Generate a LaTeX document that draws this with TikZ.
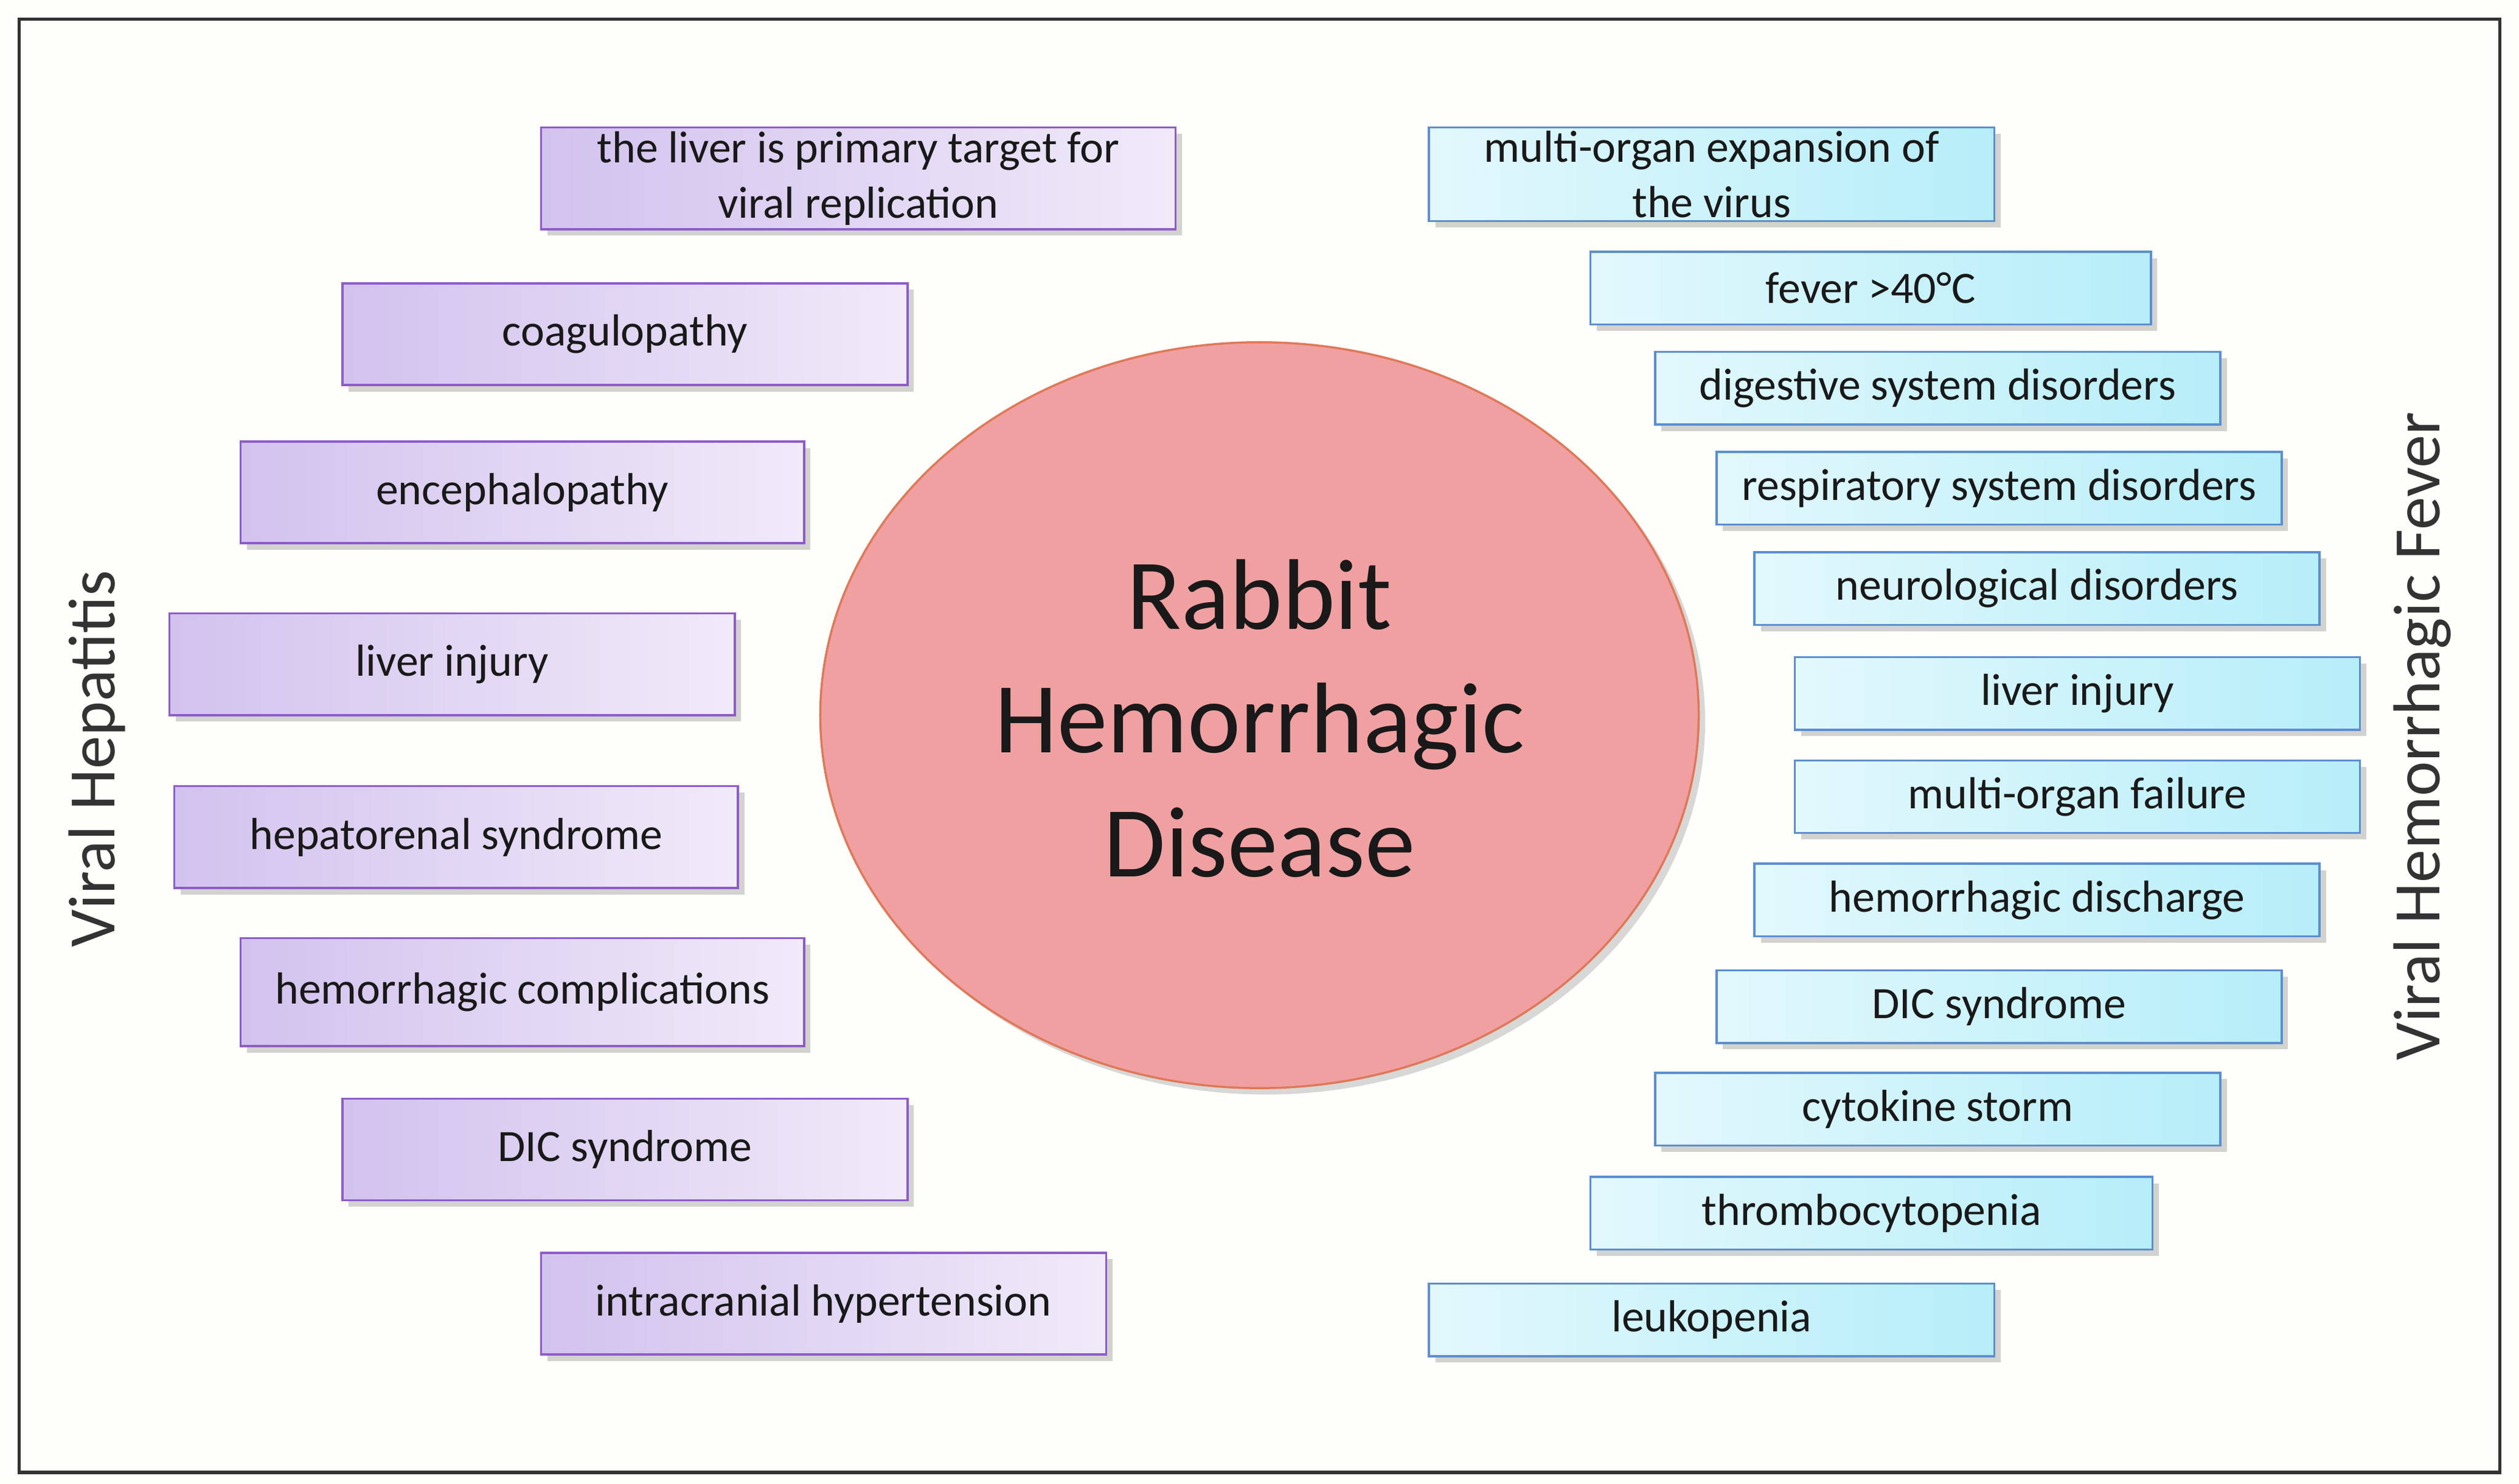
\documentclass[tikz,border=0pt]{standalone}
\usepackage{fontspec}
\setmainfont{Carlito}
\usetikzlibrary{shadows,shapes.geometric}
\definecolor{bg}{HTML}{FEFEFA}
\definecolor{lL}{HTML}{D2C2EE}
\definecolor{lR}{HTML}{F0EAF9}
\definecolor{lB}{HTML}{8E5CC8}
\definecolor{rL}{HTML}{E2F8FC}
\definecolor{rR}{HTML}{B6EEF9}
\definecolor{rB}{HTML}{5B8FD0}
\definecolor{eF}{HTML}{F0A0A0}
\definecolor{eB}{HTML}{E07858}
\begin{document}
\begin{tikzpicture}[x=0.02655cm,y=-0.02655cm,
 box/.style={draw,line width=1pt,inner sep=0pt,align=center,font=\fontsize{21}{26}\selectfont,text=black!90,
   drop shadow={shadow xshift=3pt,shadow yshift=-3pt,opacity=.35,fill=gray}},
 lbox/.style={box,draw=lB,left color=lL,right color=lR,minimum height=63*0.02655cm},
 rbox/.style={box,draw=rB,left color=rL,right color=rR,minimum width=350*0.02655cm,minimum height=45*0.02655cm},
 side/.style={font=\fontsize{31}{36}\selectfont,text=black!80,rotate=90}]
\path[use as bounding box,fill=bg] (0,0) rectangle (1560,919);
\draw[line width=1.5pt,draw=black!80] (12,12) rectangle (1548,912);
\node[draw=eB,line width=1pt,fill=eF,ellipse,minimum width=544*0.02655cm,minimum height=462*0.02655cm,
  drop shadow={shadow xshift=3pt,shadow yshift=-3pt,opacity=.3,fill=gray}] (c) at (780,443) {};
\node[align=center,font=\fontsize{47}{58}\selectfont,text=black!90] (ct) at (780,445) {Rabbit\\Hemorrhagic\\Disease};
\node[lbox,minimum width=393*0.02655cm] (l1) at (531.5,110.5) {the liver is primary target for\\viral replication};
\node[lbox,minimum width=350*0.02655cm] (l2) at (387,207) {coagulopathy};
\node[lbox,minimum width=349*0.02655cm] (l3) at (323.5,305) {encephalopathy};
\node[lbox,minimum width=350*0.02655cm] (l4) at (280,411.5) {liver injury};
\node[lbox,minimum width=349*0.02655cm] (l5) at (282.5,518.5) {hepatorenal syndrome};
\node[lbox,minimum width=349*0.02655cm,minimum height=67*0.02655cm] (l6) at (323.5,614.5) {hemorrhagic complications};
\node[lbox,minimum width=350*0.02655cm] (l7) at (387,712) {DIC syndrome};
\node[lbox,minimum width=350*0.02655cm] (l8) at (510,807.5) {intracranial hypertension};
\node[rbox,minimum height=58*0.02655cm] (r1) at (1060,108) {multi-organ expansion of\\the virus};
\node[rbox,minimum width=347*0.02655cm] (r2) at (1158.5,178.5) {fever >40°C};
\node[rbox] (r3) at (1200,240.5) {digestive system disorders};
\node[rbox] (r4) at (1238,302.5) {respiratory system disorders};
\node[rbox] (r5) at (1261.5,364.5) {neurological disorders};
\node[rbox] (r6) at (1286.5,429.5) {liver injury};
\node[rbox] (r7) at (1286.5,493.5) {multi-organ failure};
\node[rbox] (r8) at (1261.5,557.5) {hemorrhagic discharge};
\node[rbox] (r9) at (1238,623.5) {DIC syndrome};
\node[rbox] (r10) at (1200,687) {cytokine storm};
\node[rbox,minimum width=348*0.02655cm] (r11) at (1159,751.5) {thrombocytopenia};
\node[rbox] (r12) at (1060,817.5) {leukopenia};
\node[side] (vh) at (60,470) {Viral Hepatitis};
\node[side] (vf) at (1500,456) {Viral Hemorrhagic Fever};
\end{tikzpicture}
\end{document}
